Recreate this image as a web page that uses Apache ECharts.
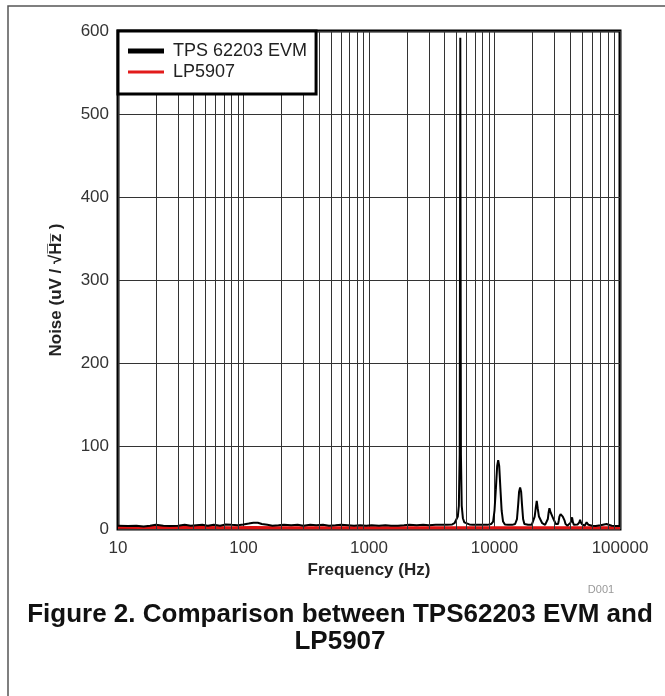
<!DOCTYPE html>
<html>
<head>
<meta charset="utf-8">
<script src="https://cdn.jsdelivr.net/npm/echarts@6/dist/echarts.min.js"></script>
<style>
html,body{margin:0;padding:0;background:#fff;}
#chart{width:665px;height:696px;}
</style>
</head>
<body>
<div id="chart"></div>
<script>
// ---- data ----
const seriesNames = ['TPS 62203 EVM', 'LP5907'];

const tpsFreq = [10,12,14,16,18,20,23,26,30,34,38,42,47,52,58,65,72,80,90,100,110,120,130,140,155,170,190,210,240,270,300,340,380,430,480,540,600,680,760,850,950,1050,1200,1350,1500,1700,1900,2100,2400,2700,3000,3400,3800,4200,4600,4800,4950,5100,5200,5280,5320,5340,5360,5400,5480,5600,5750,5950,6300,6700,7300,8000,8800,9400,9750,10000,10250,10500,10700,10900,11150,11400,11700,12100,12800,13800,14600,15100,15450,15700,16000,16300,16550,16900,17300,18500,19800,20500,20900,21300,21700,22100,22600,24000,25300,25800,26200,26600,27000,27400,28000,29500,30800,31300,31700,32100,32500,32900,33600,35000,36200,36800,37500,38200,39000,40500,41500,42200,42900,43600,44500,46000,47400,48100,48800,50000,52300,53000,53500,54200,56000,60000,64000,70000,78000,86000,93000,100000];
const tpsNoise = [4,3.5,4,3,4,5,4,3.5,4,5,4,4.5,5,4,5,4,5.5,5,4.5,5.5,6.5,7.5,7.5,6,5,4,4.5,5,4.5,5,4,5,4.5,5,4,4.5,5,4.5,4,4.5,4,4.5,4,4.5,4,4,4.5,5,4.5,5,4.5,5,5,5,5.5,7,9,15,28,90,400,592,400,90,28,13,8,6,5.5,5,5,5,5,6,9,22,48,76,83,76,48,22,9,5.5,5,5,6,12,30,45,50,45,30,12,6,5,5,7,15,25,34,25,15,7,5,5,6,12,20,25,20,12,6,5,4.5,6,10,15,18,15,10,6,4.5,4,5,8,14,8,5,4,4,5.5,8,11,8,5.5,4,4,5,8,5,4,3.5,4.5,6,4,3.5,3.5,4,3.5,3,3.5,3,3];

const lpFreq = [10,15,20,30,50,80,120,200,300,500,800,1200,2000,3000,5000,8000,12000,20000,30000,50000,80000,100000];
const lpNoise = [2,1.8,1.9,1.7,1.8,1.6,1.8,1.6,1.5,1.6,1.5,1.5,1.6,1.5,1.5,1.4,1.5,1.5,1.5,1.6,1.5,1.6];

const xTickLabels = ['10','100','1000','10000','100000'];
const yTicks = [0,100,200,300,400,500,600];

// minor vertical grid values (2..9 per decade)
const minorGrid = [];
[10,100,1000,10000].forEach(d => { for (let k = 2; k <= 9; k++) minorGrid.push(k * d); });

const chart = echarts.init(document.getElementById('chart'), null, {renderer: 'canvas'});
const FONT = 'Liberation Sans, Arial, sans-serif';

const option = {
  animation: false,
  backgroundColor: '#fff',
  grid: {
    left: 118, right: 45, top: 31, bottom: 167,
    show: true, borderColor: '#000', borderWidth: 3, backgroundColor: 'transparent'
  },
  legend: {
    show: true,
    orient: 'vertical',
    left: 118, top: 31,
    backgroundColor: '#fff',
    borderColor: '#000', borderWidth: 3,
    padding: [11, 9, 13, 10],
    itemGap: 3,
    itemWidth: 36, itemHeight: 5,
    textStyle: {fontSize: 18, color: '#222', fontFamily: FONT, padding: [0, 0, 0, 4]},
    data: [
      {name: seriesNames[0], icon: 'rect'},
      {name: seriesNames[1], icon: 'path://M0 0H12V1H0Z'}
    ],
    z: 10
  },
  xAxis: {
    type: 'log', logBase: 10, min: 10, max: 100000,
    axisLine: {show: false},
    axisTick: {show: false},
    splitLine: {show: true, lineStyle: {color: '#333', width: 1}},
    axisLabel: {
      margin: 11, fontSize: 17, color: '#333', fontFamily: FONT,
      formatter: v => { const r = Math.round(v); const s = String(r); return xTickLabels.includes(s) ? s : ''; }
    },
    name: 'Frequency (Hz)', nameLocation: 'middle', nameGap: 33,
    nameTextStyle: {fontSize: 17, fontWeight: 'bold', color: '#222', fontFamily: FONT}
  },
  yAxis: {
    type: 'value', min: yTicks[0], max: yTicks[yTicks.length - 1], interval: 100,
    axisLine: {show: false},
    axisTick: {show: false},
    splitLine: {show: true, lineStyle: {color: '#333', width: 1}},
    axisLabel: {margin: 9, fontSize: 17, color: '#333', fontFamily: FONT},
    name: 'Noise (uV / \u221AH\u0305z\u0305 )', nameLocation: 'middle', nameGap: 53, nameRotate: 90,
    nameTextStyle: {fontSize: 17, fontWeight: 'bold', color: '#222', fontFamily: FONT, padding: [0, 20, 0, 0]}
  },
  series: [
    {
      name: 'gridlines', type: 'line', data: [], z: 1, silent: true,
      markLine: {
        silent: true, symbol: ['none', 'none'], label: {show: false},
        lineStyle: {color: '#333', width: 1, type: 'solid'},
        emphasis: {disabled: true},
        data: minorGrid.map(v => ({xAxis: v}))
      }
    },
    {
      name: seriesNames[0], type: 'line', z: 4, showSymbol: false, smooth: false,
      lineStyle: {color: '#000', width: 2}, itemStyle: {color: '#000'},
      data: tpsFreq.map((f, i) => [f, tpsNoise[i]])
    },
    {
      name: seriesNames[1], type: 'line', z: 3, showSymbol: false,
      lineStyle: {color: '#d11', width: 3}, itemStyle: {color: '#e21b1b'},
      data: lpFreq.map((f, i) => [f, lpNoise[i]])
    }
  ],
  graphic: [
    {type: 'rect', shape: {x: 8, y: 6, width: 700, height: 700}, style: {fill: 'none', stroke: '#555', lineWidth: 1.5}, silent: true, z: 0},
    {type: 'text', x: 601, y: 590, style: {text: 'D001', fill: '#999', font: '11px ' + FONT, textAlign: 'center', textVerticalAlign: 'middle'}},
    {type: 'text', x: 340, y: 615, style: {text: 'Figure 2. Comparison between TPS62203 EVM and', font: 'bold 26px ' + FONT, fill: '#111', textAlign: 'center', textVerticalAlign: 'middle'}},
    {type: 'text', x: 340, y: 642, style: {text: 'LP5907', font: 'bold 26px ' + FONT, fill: '#111', textAlign: 'center', textVerticalAlign: 'middle'}}
  ]
};
chart.setOption(option);
</script>
</body>
</html>
